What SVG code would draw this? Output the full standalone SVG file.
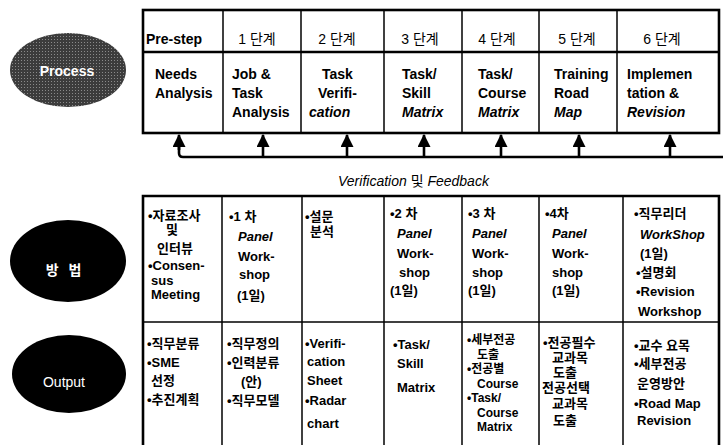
<svg xmlns="http://www.w3.org/2000/svg" width="723" height="445" viewBox="0 0 723 445">
<style>
text{font-family:"Liberation Sans","Noto Sans CJK KR",Arial,sans-serif;fill:#000}
.h{font-size:14px}
.hb{font-size:14px;font-weight:bold}
.b{font-size:14px;font-weight:bold}
.s{font-size:13px;font-weight:bold}
.t{font-size:12px;font-weight:bold}
.i{font-style:italic}
.c{text-anchor:middle}
.w{fill:#fff;text-anchor:middle}
.thick{stroke:#000;stroke-width:2.6;fill:none}
.thin{stroke:#000;stroke-width:1.5;fill:none}
.conn{stroke:#000;stroke-width:2.6;fill:none}
</style>
<defs>
<marker id="ah" viewBox="0 0 12 12" refX="11" refY="6" markerWidth="13" markerHeight="13" markerUnits="userSpaceOnUse" orient="auto">
<path d="M0,0 L12,6 L0,12 Z" fill="#000"/>
</marker>
<pattern id="dots" width="3" height="3" patternUnits="userSpaceOnUse">
<rect width="3" height="3" fill="#3c3c3c"/>
<rect x="0" y="0" width="1" height="1" fill="#8a8a8a"/>
</pattern>
</defs>
<rect width="723" height="445" fill="#fff"/>

<!-- Ellipse labels -->
<g id="process">
<ellipse cx="68" cy="70" rx="58" ry="37" fill="url(#dots)"/>
<text class="hb w" x="67" y="76">Process</text>
</g>
<g id="method">
<ellipse cx="68" cy="261" rx="58" ry="41" fill="#000"/>
<text class="h w" x="65" y="275" font-weight="bold" letter-spacing="3">방 법</text>
</g>
<g id="output">
<ellipse cx="69" cy="374" rx="57" ry="39" fill="#000"/>
<text class="h w" x="64" y="387" font-size="15">Output</text>
</g>

<!-- Top table grid -->
<g id="process-table">
<rect class="thick" x="143" y="10" width="576" height="123"/>
<line class="thick" x1="143" y1="52" x2="719" y2="52" stroke-width="2"/>
<line class="thin" x1="223" y1="10" x2="223" y2="133"/>
<line class="thin" x1="301" y1="10" x2="301" y2="133"/>
<line class="thin" x1="384" y1="10" x2="384" y2="133"/>
<line class="thin" x1="462" y1="10" x2="462" y2="133"/>
<line class="thin" x1="539" y1="10" x2="539" y2="133"/>
<line class="thin" x1="617" y1="10" x2="617" y2="133"/>
</g>

<g id="step-pre">
<text class="hb" x="146" y="44">Pre-step</text>
<text class="b" x="155" y="79">Needs</text>
<text class="b" x="155" y="98">Analysis</text>
</g>
<g id="step-1">
<text class="h c" x="257" y="44">1 단계</text>
<text class="b" x="232" y="79">Job &amp;</text>
<text class="b" x="232" y="98">Task</text>
<text class="b" x="232" y="117">Analysis</text>
</g>
<g id="step-2">
<text class="h c" x="337" y="44">2 단계</text>
<text class="b" x="322" y="79">Task</text>
<text class="b" x="318" y="98">Verifi-</text>
<text class="b i" x="309" y="117">cation</text>
</g>
<g id="step-3">
<text class="h c" x="420" y="44">3 단계</text>
<text class="b" x="402" y="79">Task/</text>
<text class="b" x="402" y="98">Skill</text>
<text class="b i" x="402" y="117">Matrix</text>
</g>
<g id="step-4">
<text class="h c" x="497" y="44">4 단계</text>
<text class="b" x="478" y="79">Task/</text>
<text class="b" x="478" y="98">Course</text>
<text class="b i" x="478" y="117">Matrix</text>
</g>
<g id="step-5">
<text class="h c" x="577" y="44">5 단계</text>
<text class="b" x="554" y="79">Training</text>
<text class="b" x="554" y="98">Road</text>
<text class="b i" x="554" y="117">Map</text>
</g>
<g id="step-6">
<text class="h c" x="662" y="44">6 단계</text>
<text class="b" x="627" y="79">Implemen</text>
<text class="b" x="627" y="98">tation &amp;</text>
<text class="b i" x="627" y="117">Revision</text>
</g>

<!-- Feedback connectors -->
<g id="connectors">
<path class="conn" d="M179,146 V153 Q179,157 183,157 H723"/>
<line class="conn" x1="179" y1="150" x2="179" y2="135" marker-end="url(#ah)"/>
<line class="conn" x1="263" y1="157" x2="263" y2="135" marker-end="url(#ah)"/>
<line class="conn" x1="347" y1="157" x2="347" y2="135" marker-end="url(#ah)"/>
<line class="conn" x1="424" y1="157" x2="424" y2="135" marker-end="url(#ah)"/>
<line class="conn" x1="501" y1="157" x2="501" y2="135" marker-end="url(#ah)"/>
<line class="conn" x1="579" y1="157" x2="579" y2="135" marker-end="url(#ah)"/>
<line class="conn" x1="670" y1="157" x2="670" y2="135" marker-end="url(#ah)"/>
</g>
<g id="feedback-label">
<text class="h" x="338" y="186"><tspan class="i">Verification</tspan> 및 <tspan class="i">Feedback</tspan></text>
</g>

<!-- Lower table grid -->
<g id="method-output-table">
<path class="thick" d="M143,445 V196 H719 V445"/>
<line class="thin" x1="143" y1="322" x2="719" y2="322" stroke-width="1.8"/>
<line class="thin" x1="222" y1="196" x2="222" y2="445"/>
<line class="thin" x1="302" y1="196" x2="302" y2="445"/>
<line class="thin" x1="384" y1="196" x2="384" y2="445"/>
<line class="thin" x1="462" y1="196" x2="462" y2="445"/>
<line class="thin" x1="539" y1="196" x2="539" y2="445"/>
<line class="thin" x1="623" y1="196" x2="623" y2="445"/>
</g>

<!-- Method row -->
<g id="method-pre">
<text class="s" x="148" y="220">•자료조사</text>
<text class="s" x="166" y="234">및</text>
<text class="s" x="157" y="253">인터뷰</text>
<text class="s" x="148" y="270">•Consen-</text>
<text class="s" x="151" y="285" font-size="10.5">sus</text>
<text class="s" x="151" y="299">Meeting</text>
</g>
<g id="method-1">
<text class="s" x="229" y="221">•1 차</text>
<text class="s i" x="238" y="241">Panel</text>
<text class="s" x="238" y="261">Work-</text>
<text class="s" x="239" y="279">shop</text>
<text class="s" x="237" y="300">(1일)</text>
</g>
<g id="method-2">
<text class="s" x="305" y="221">•설문</text>
<text class="s" x="310" y="236">분석</text>
</g>
<g id="method-3">
<text class="s" x="390" y="218">•2 차</text>
<text class="s i" x="397" y="238">Panel</text>
<text class="s" x="397" y="258">Work-</text>
<text class="s" x="399" y="277">shop</text>
<text class="s" x="390" y="295">(1일)</text>
</g>
<g id="method-4">
<text class="s" x="468" y="218">•3 차</text>
<text class="s i" x="472" y="238">Panel</text>
<text class="s" x="472" y="258">Work-</text>
<text class="s" x="472" y="277">shop</text>
<text class="s" x="468" y="295">(1일)</text>
</g>
<g id="method-5">
<text class="s" x="545" y="218">•4차</text>
<text class="s i" x="552" y="238">Panel</text>
<text class="s" x="552" y="258">Work-</text>
<text class="s" x="552" y="277">shop</text>
<text class="s" x="552" y="295">(1일)</text>
</g>
<g id="method-6">
<text class="s" x="634" y="218">•직무리더</text>
<text class="s i" x="640" y="239">WorkShop</text>
<text class="s" x="640" y="258">(1일)</text>
<text class="s" x="636" y="277">•설명회</text>
<text class="s" x="636" y="296">•Revision</text>
<text class="s" x="638" y="316">Workshop</text>
</g>

<!-- Output row -->
<g id="output-pre">
<text class="s" x="147" y="348">•직무분류</text>
<text class="s" x="147" y="367">•SME</text>
<text class="s" x="151" y="385">선정</text>
<text class="s" x="147" y="404">•추진계획</text>
</g>
<g id="output-1">
<text class="s" x="227" y="348">•직무정의</text>
<text class="s" x="227" y="367">•인력분류</text>
<text class="s" x="241" y="386">(안)</text>
<text class="s" x="227" y="405">•직무모델</text>
</g>
<g id="output-2">
<text class="s" x="305" y="348">•Verifi-</text>
<text class="s" x="307" y="366">cation</text>
<text class="s" x="307" y="385">Sheet</text>
<text class="s" x="305" y="405">•Radar</text>
<text class="s" x="307" y="428">chart</text>
</g>
<g id="output-3">
<text class="s" x="393" y="349">•Task/</text>
<text class="s" x="397" y="368">Skill</text>
<text class="s" x="397" y="392">Matrix</text>
</g>
<g id="output-4">
<text class="t" x="467" y="344">•세부전공</text>
<text class="t" x="477" y="358.5">도출</text>
<text class="t" x="467" y="373">•전공별</text>
<text class="t" x="477" y="387.5">Course</text>
<text class="t" x="467" y="402">•Task/</text>
<text class="t" x="477" y="416.5">Course</text>
<text class="t" x="477" y="431">Matrix</text>
</g>
<g id="output-5">
<text class="s" x="543" y="347">•전공필수</text>
<text class="s" x="552" y="362">교과목</text>
<text class="s" x="553" y="377">도출</text>
<text class="s" x="542" y="392">전공선택</text>
<text class="s" x="552" y="408">교과목</text>
<text class="s" x="553" y="425">도출</text>
</g>
<g id="output-6">
<text class="s" x="634" y="350">•교수 요목</text>
<text class="s" x="634" y="368">•세부전공</text>
<text class="s" x="637" y="388">운영방안</text>
<text class="s" x="634" y="408">•Road Map</text>
<text class="s" x="637" y="425">Revision</text>
</g>
</svg>
